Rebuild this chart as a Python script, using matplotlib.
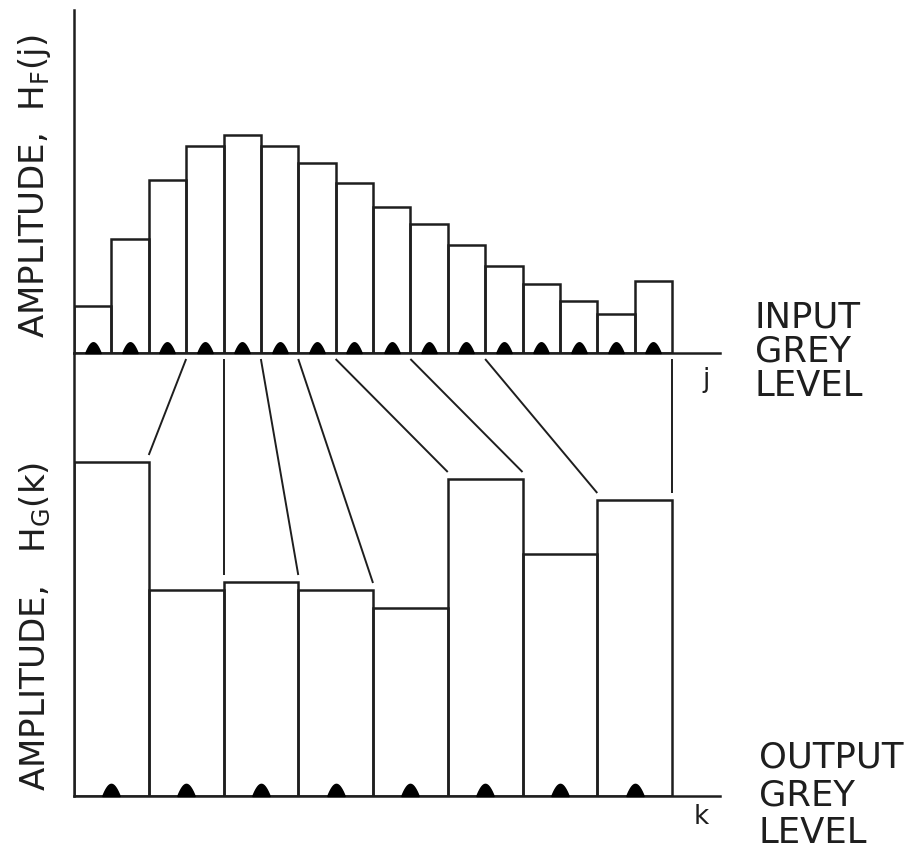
import numpy as np
import matplotlib
matplotlib.use("Agg")
import matplotlib.pyplot as plt
from matplotlib.path import Path

# Input histogram H_F(j): 16 grey levels
input_levels = list(range(16))
input_hist = [4.7, 11.4, 17.3, 20.7, 21.8, 20.7, 19.0, 17.0,
              14.6, 12.9, 10.8, 8.7, 6.9, 5.2, 3.9, 7.2]

# Output histogram H_G(k): 8 grey levels
output_levels = list(range(8))
output_hist = [33.4, 20.6, 21.4, 20.6, 18.8, 31.7, 24.2, 29.6]

# Upper boundary (in input levels) of each output bin
input_cuts = [3, 4, 5, 6, 7, 9, 11, 16]
output_cuts = [1, 2, 3, 4, 5, 6, 7, 8]

W, H = 910, 849
INK = "#1e1e1e"
fig = plt.figure(figsize=(W / 100, H / 100), dpi=100)
fig.patch.set_facecolor("white")

def px_axes(x0, y0, x1, y1):
    return fig.add_axes([x0 / W, 1 - y1 / H, (x1 - x0) / W, (y1 - y0) / H])

ax_top = px_axes(74, 10, 720, 353)
ax_bot = px_axes(74, 353, 720, 796)

unit = 598 / 16  # pixels per input level
xmax = (720 - 74) / unit

for ax, ymax in ((ax_top, 34.3), (ax_bot, 44.3)):
    ax.set_xlim(0, xmax)
    ax.set_ylim(0, ymax)
    ax.set_facecolor("none")
    for s in ("top", "right"):
        ax.spines[s].set_visible(False)
    for s in ("left", "bottom"):
        ax.spines[s].set_linewidth(1.8)
        ax.spines[s].set_color(INK)
    ax.set_xticks([])
    ax.set_yticks([])

# bell-shaped level markers
xs = np.linspace(-1, 1, 41)
ys = 1.4 * np.cos(np.pi * xs / 2) ** 0.9
verts = np.column_stack([np.r_[xs, xs[0]], np.r_[ys, 0]])
bell = Path(verts, closed=True)

# top histogram
ax_top.bar(input_levels, input_hist, width=1, align="edge", fill=False,
           edgecolor=INK, linewidth=1.8, zorder=2)
ax_top.plot(np.array(input_levels) + 0.5, np.zeros(len(input_levels)),
            linestyle="none", marker=bell, markersize=15.5, color="black",
            clip_on=False, zorder=4)

# bottom histogram (each output level spans two input-level widths)
k_left = [2 * k for k in output_levels]
ax_bot.bar(k_left, output_hist, width=2, align="edge", fill=False,
           edgecolor=INK, linewidth=1.8, zorder=2)
ax_bot.plot(np.array(k_left) + 1.0, np.zeros(len(output_levels)),
            linestyle="none", marker=bell, markersize=17.5, color="black",
            clip_on=False, zorder=4)

# mapping lines from input-level boundaries to output-level boundaries
ytop = ax_bot.get_ylim()[1]
for jc, kc in zip(input_cuts, output_cuts):
    xk = 2 * kc
    neighbours = output_hist[kc - 1:kc + 1]
    y_end = max(neighbours) + 0.7
    ax_bot.plot([jc, xk], [ytop - 0.6, y_end], color=INK, linewidth=1.4,
                solid_capstyle="butt", zorder=3)

# labels
def ftext(x, y, s, **kw):
    fig.text(x / W, 1 - y / H, s, **kw)

label_kw = dict(rotation=90, ha="center", va="center", fontsize=24.5,
                color=INK, family="DejaVu Sans")
ftext(35, 186, r"AMPLITUDE,  H$_\mathregular{F}$(j)", **label_kw)
ftext(35, 626, r"AMPLITUDE,   H$_\mathregular{G}$(k)", **label_kw)

side_kw = dict(ha="left", va="center", fontsize=25.5, color=INK,
               family="DejaVu Sans")
for word, y in (("INPUT", 317), ("GREY", 351), ("LEVEL", 386)):
    ftext(755, y, word, **side_kw)
for word, y in (("OUTPUT", 758), ("GREY", 795), ("LEVEL", 833)):
    ftext(759, y, word, **side_kw)

ftext(706, 380, "j", ha="center", va="center", fontsize=19, color=INK)
ftext(701, 817, "k", ha="center", va="center", fontsize=19, color=INK)

fig.savefig("out.png", dpi=100, facecolor="white")
